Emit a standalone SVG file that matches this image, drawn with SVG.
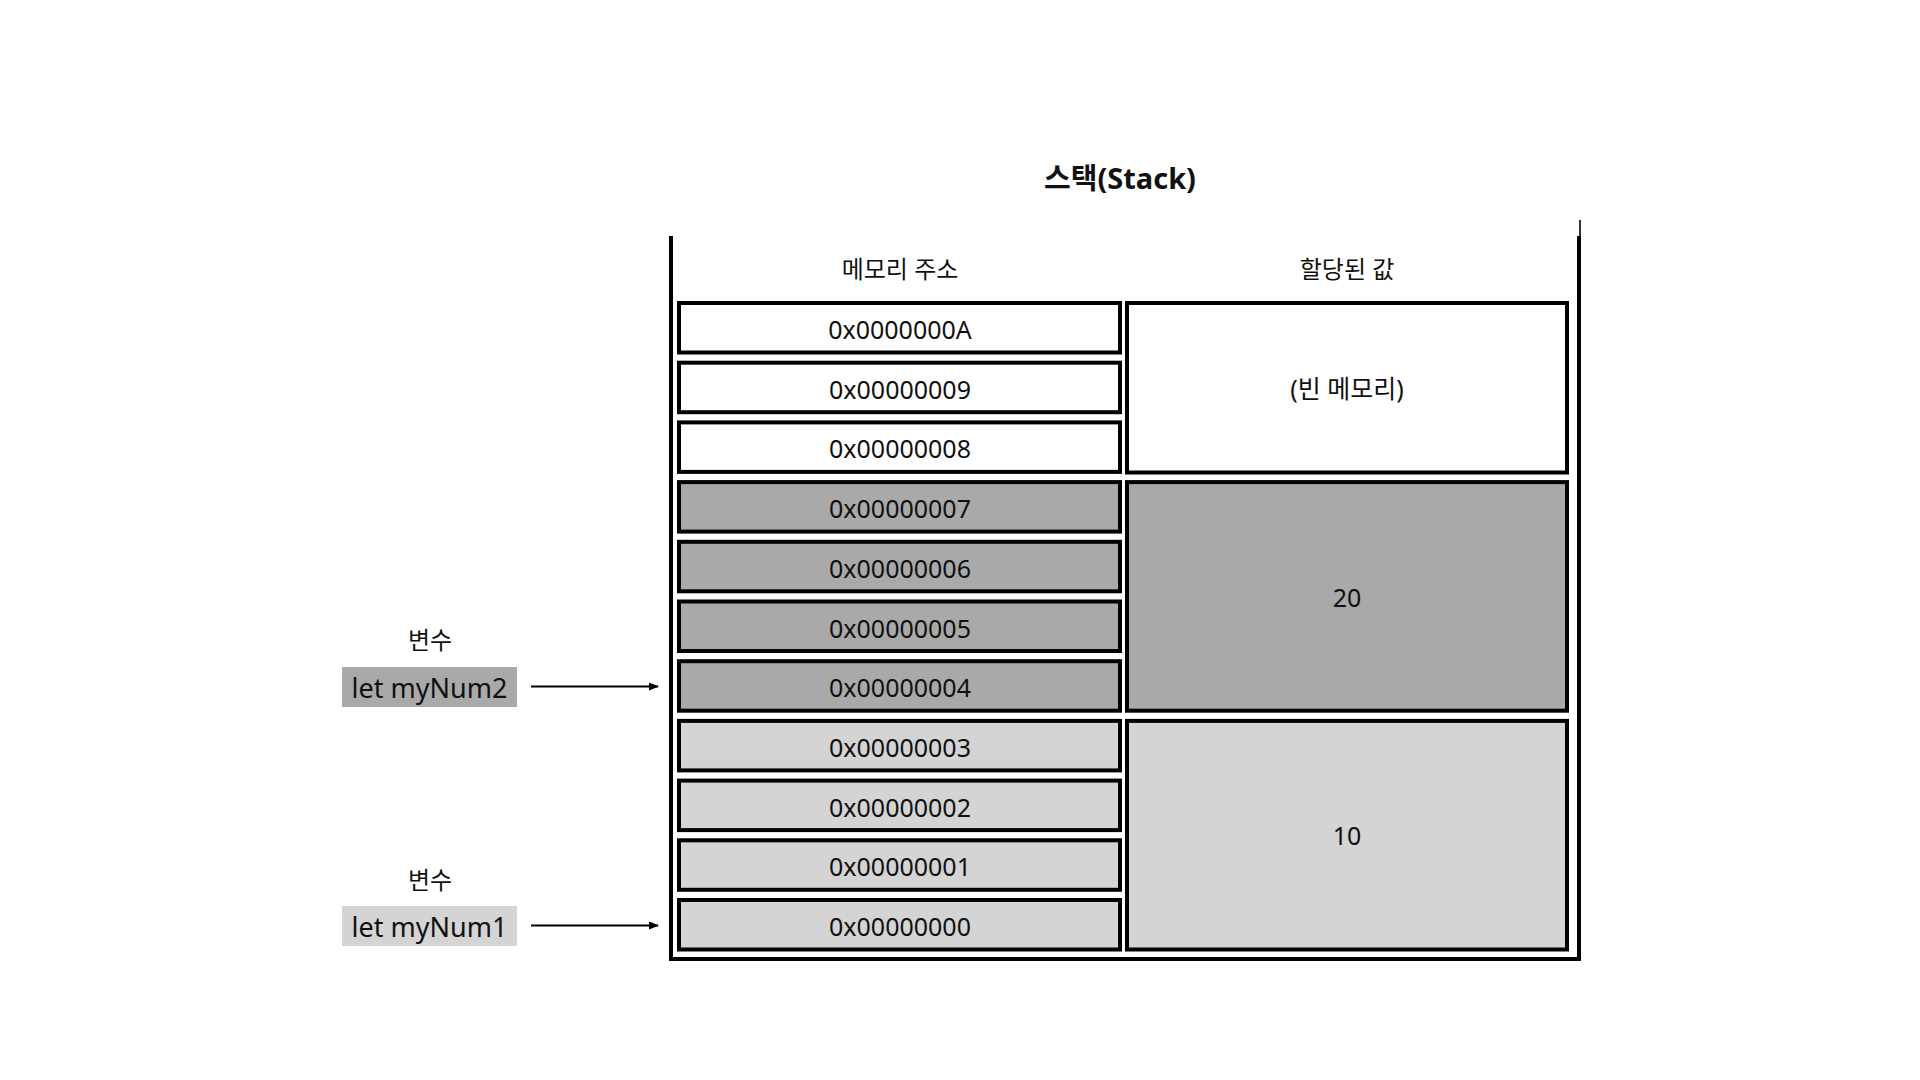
<svg xmlns="http://www.w3.org/2000/svg" width="1920" height="1080" viewBox="0 0 1920 1080">
<defs>
<style>
text{font-family:"Noto Sans","Noto Sans CJK KR",sans-serif;fill:#111;text-anchor:middle;dominant-baseline:central}
.addr{font-size:25px}
.hdr{font-size:24px}
.val{font-size:25px}
.title{font-size:29px;font-weight:bold}
.var{font-size:24px}
.lbl{font-size:27px}
.cell{stroke:#000;stroke-width:4}
.empty{fill:#fff}
.dark{fill:#a9a9a9}
.light{fill:#d4d4d4}
.conn{stroke:#000;stroke-width:1.8;fill:none}
</style>
<marker id="arr" markerWidth="10" markerHeight="8" refX="9" refY="4" orient="auto" markerUnits="userSpaceOnUse">
<path d="M0,0 L10,4 L0,8 Z" fill="#000"/>
</marker>
</defs>
<rect width="1920" height="1080" fill="#fff"/>
<g id="title"><text class="title" x="1120" y="177">스택(Stack)</text></g>
<g id="container">
<path d="M671,236 L671,959 L1579,959 L1579,236" fill="none" stroke="#000" stroke-width="4"/>
<line x1="1580" y1="220" x2="1580" y2="237" stroke="#000" stroke-width="1.6"/>
<text class="hdr" x="900" y="268">메모리 주소</text>
<text class="hdr" x="1347" y="268">할당된 값</text>
</g>
<g id="addresses">
<g id="addr-A"><rect class="cell empty" x="679" y="303" width="441" height="49.5"/><text class="addr" x="900" y="329">0x0000000A</text></g>
<g id="addr-9"><rect class="cell empty" x="679" y="362.7" width="441" height="49.5"/><text class="addr" x="900" y="388.7">0x00000009</text></g>
<g id="addr-8"><rect class="cell empty" x="679" y="422.4" width="441" height="49.5"/><text class="addr" x="900" y="448.4">0x00000008</text></g>
<g id="addr-7"><rect class="cell dark" x="679" y="482.1" width="441" height="49.5"/><text class="addr" x="900" y="508.1">0x00000007</text></g>
<g id="addr-6"><rect class="cell dark" x="679" y="541.8" width="441" height="49.5"/><text class="addr" x="900" y="567.8">0x00000006</text></g>
<g id="addr-5"><rect class="cell dark" x="679" y="601.5" width="441" height="49.5"/><text class="addr" x="900" y="627.5">0x00000005</text></g>
<g id="addr-4"><rect class="cell dark" x="679" y="661.2" width="441" height="49.5"/><text class="addr" x="900" y="687.2">0x00000004</text></g>
<g id="addr-3"><rect class="cell light" x="679" y="720.9" width="441" height="49.5"/><text class="addr" x="900" y="746.9">0x00000003</text></g>
<g id="addr-2"><rect class="cell light" x="679" y="780.6" width="441" height="49.5"/><text class="addr" x="900" y="806.6">0x00000002</text></g>
<g id="addr-1"><rect class="cell light" x="679" y="840.3" width="441" height="49.5"/><text class="addr" x="900" y="866.3">0x00000001</text></g>
<g id="addr-0"><rect class="cell light" x="679" y="900" width="441" height="49.5"/><text class="addr" x="900" y="926">0x00000000</text></g>
</g>
<g id="values">
<g id="val-empty"><rect class="cell empty" x="1127" y="303" width="440" height="169.5"/><text class="val" x="1347" y="388">(빈 메모리)</text></g>
<g id="val-20"><rect class="cell dark" x="1127" y="482.1" width="440" height="228.6"/><text class="val" x="1347" y="597">20</text></g>
<g id="val-10"><rect class="cell light" x="1127" y="720.9" width="440" height="228.6"/><text class="val" x="1347" y="835">10</text></g>
</g>
<g id="var-myNum2">
<text class="var" x="430" y="639">변수</text>
<rect x="342" y="667" width="175" height="40" fill="#a9a9a9"/>
<text class="lbl" x="429.5" y="687">let myNum2</text>
</g>
<g id="var-myNum1">
<text class="var" x="430" y="879">변수</text>
<rect x="342" y="906" width="175" height="40" fill="#d4d4d4"/>
<text class="lbl" x="429.5" y="926">let myNum1</text>
</g>
<g id="connectors">
<line class="conn" x1="531" y1="686.5" x2="658" y2="686.5" marker-end="url(#arr)"/>
<line class="conn" x1="531" y1="925.5" x2="658" y2="925.5" marker-end="url(#arr)"/>
</g>
</svg>
